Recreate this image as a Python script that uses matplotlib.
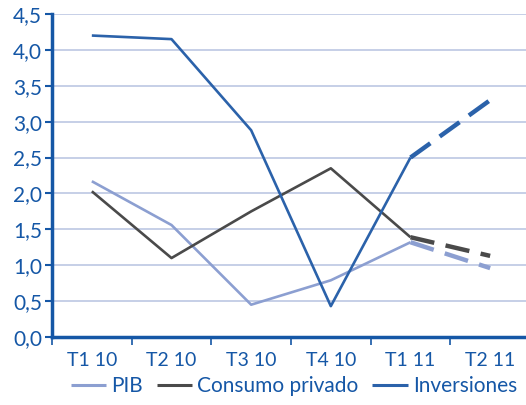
import matplotlib
matplotlib.use("Agg")
import matplotlib.pyplot as plt
import numpy as np

plt.rcParams['font.family'] = ['Lato', 'DejaVu Sans']

categories = ["T1 10", "T2 10", "T3 10", "T4 10", "T1 11", "T2 11"]
pib = [2.17, 1.56, 0.45, 0.79, 1.32, 0.96]
consumo = [2.03, 1.10, 1.75, 2.35, 1.39, 1.13]
inversiones = [4.20, 4.15, 2.88, 0.43, 2.50, 3.30]
yticks = [0.0, 0.5, 1.0, 1.5, 2.0, 2.5, 3.0, 3.5, 4.0, 4.5]

c_pib = "#8c9fd1"
c_cons = "#4a4a4a"
c_inv = "#2b62aa"
c_axis = "#1557a6"
c_grid = "#bcc7e3"

fig = plt.figure(figsize=(5.26, 4.05), dpi=100)
ax = fig.add_axes([52/526, 68/405, (526-52)/526, (337-14)/405])

x = np.arange(len(categories))
series = [(pib, c_pib, "PIB"), (consumo, c_cons, "Consumo privado"), (inversiones, c_inv, "Inversiones")]
for vals, col, lab in series:
    ax.plot(x[:5], vals[:5], color=col, lw=1.9, label=lab, solid_capstyle='butt')
    ax.plot(x[4:], vals[4:], color=col, lw=3.2, dashes=(5.5, 2.6), dash_capstyle='butt')

ax.set_ylim(0, 4.5)
ax.set_xlim(-0.5, 5.45)
ax.set_yticks(yticks)
ax.set_yticklabels([f"{v:.1f}".replace(".", ",") for v in yticks])
ax.yaxis.grid(True, color=c_grid, lw=1.2)
ax.set_axisbelow(True)

ax.set_xticks(np.arange(-0.5, 5.5, 1.0))
ax.set_xticklabels([])
ax.set_xticks(x, minor=True)
ax.set_xticklabels(categories, minor=True)
ax.tick_params(axis='x', which='minor', length=0, pad=11, labelsize=14, labelcolor=c_axis)
ax.tick_params(axis='x', which='major', length=6, width=1.2, color=c_axis, direction='out')
ax.tick_params(axis='y', length=5, width=1.5, color=c_axis, labelsize=15, labelcolor=c_axis, pad=2)

for s in ['top', 'right']:
    ax.spines[s].set_visible(False)
for s in ['left', 'bottom']:
    ax.spines[s].set_color(c_axis)
    ax.spines[s].set_linewidth(2.5)

leg = fig.legend(loc='center', bbox_to_anchor=(294/526, 1 - 386/405), ncol=3, frameon=False,
                 fontsize=15, handlelength=1.7, handletextpad=0.25, columnspacing=0.65,
                 borderaxespad=0, borderpad=0)
for t in leg.get_texts():
    t.set_color(c_axis)
for h in leg.get_lines():
    h.set_linewidth(2.2)

fig.savefig("out.png", dpi=100)
